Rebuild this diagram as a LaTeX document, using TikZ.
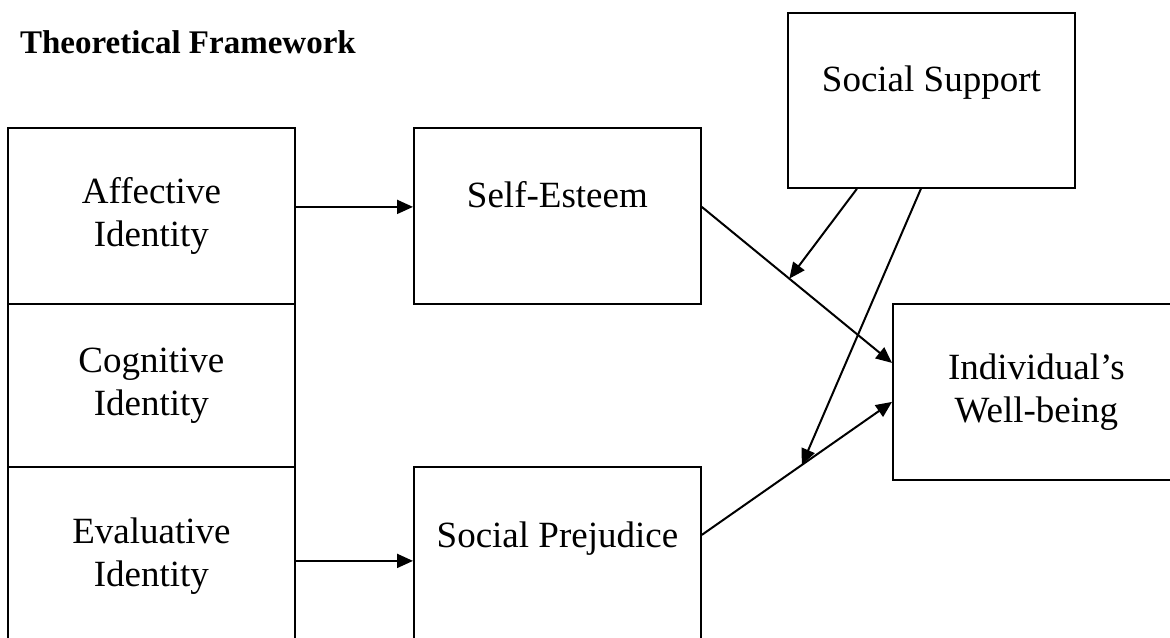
\documentclass[tikz,border=0pt]{standalone}
\usepackage{fontspec}
\setmainfont{Liberation Serif}
\usetikzlibrary{positioning,arrows.meta,calc}

\begin{document}
\begin{tikzpicture}[x=0.5pt, y=-0.5pt,
  box/.style={draw, line width=0.9pt, anchor=north west, inner sep=0pt,
    minimum width=143.5pt, align=center, font=\fontsize{18.5}{21.5}\selectfont},
  conn/.style={line width=1pt, -{Triangle[length=8pt,width=7pt]}}]
  \useasboundingbox (0,0) rectangle (1170,637);
  \node[anchor=base west, font=\fontsize{16.5}{20}\selectfont\bfseries] (title) at (13,53) {Theoretical Framework};
  % identity column
  \node[box, minimum height=88pt] (aff) at (7,127) {Affective\\Identity};
  \node[box, minimum height=81.5pt] (cog) at (7,303) {Cognitive\\Identity};
  \node[box, minimum height=89.5pt] (eval) at (7,466) {Evaluative\\Identity};
  % mediators
  \node[box, minimum height=88pt] (esteem) at (413,127) {Self-Esteem\\~};
  \node[box, minimum height=89.5pt] (prej) at (413,466) {Social Prejudice\\~};
  \node[box, minimum height=87.5pt] (support) at (787,12) {Social Support\\~};
  \node[box, minimum height=88pt] (well) at (892,303) {Individual's\\Well-being};
  % paths
  \draw[conn] ([yshift=4.5pt]aff.east) -- ([yshift=4.5pt]esteem.west);
  \draw[conn] ([yshift=-2.25pt]eval.east) -- ([yshift=-2.25pt]prej.west);
  \draw[conn] ([yshift=4.5pt]esteem.east) -- coordinate[pos=0.46] (m1) ([yshift=14.5pt]well.west);
  \draw[conn] ([yshift=10.75pt]prej.east) -- coordinate[pos=0.526] (m2) ([yshift=-5pt]well.west);
  % moderation
  \draw[conn] ([xshift=-37.25pt]support.south) -- (m1);
  \draw[conn] ([xshift=-5.25pt]support.south) -- (m2);
\end{tikzpicture}
\end{document}
